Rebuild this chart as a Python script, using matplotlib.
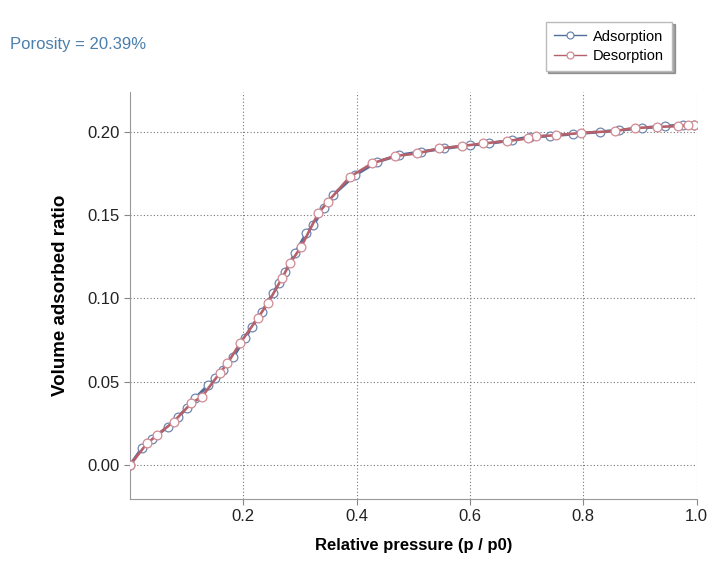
import matplotlib.pyplot as plt
from matplotlib.lines import Line2D

# isotherm points
ads_p = [0, 0.021, 0.039, 0.067, 0.085, 0.100, 0.115, 0.138, 0.150, 0.164,
         0.182, 0.203, 0.215, 0.233, 0.252, 0.263, 0.274, 0.291, 0.311, 0.323,
         0.342, 0.358, 0.397, 0.436, 0.475, 0.513, 0.554, 0.600, 0.633, 0.674,
         0.706, 0.741, 0.782, 0.829, 0.863, 0.903, 0.944, 0.976, 0.995]
ads_v = [0, 0.0100, 0.0156, 0.0230, 0.0290, 0.0340, 0.0400, 0.0480, 0.0520, 0.0570,
         0.0650, 0.0760, 0.0830, 0.0920, 0.1030, 0.1090, 0.1160, 0.1270, 0.1390, 0.1440,
         0.1540, 0.1620, 0.1740, 0.1820, 0.1860, 0.1880, 0.1900, 0.1920, 0.1930, 0.1950,
         0.1970, 0.1975, 0.1987, 0.2000, 0.2010, 0.2023, 0.2035, 0.2040, 0.2040]

des_p = [0.995, 0.985, 0.967, 0.930, 0.891, 0.856, 0.796, 0.752, 0.717, 0.702,
         0.665, 0.623, 0.586, 0.545, 0.506, 0.468, 0.427, 0.388, 0.349, 0.332,
         0.302, 0.282, 0.268, 0.243, 0.225, 0.194, 0.172, 0.158, 0.127, 0.108,
         0.077, 0.048, 0.030, 0]
des_v = [0.2040, 0.2040, 0.2035, 0.2029, 0.2023, 0.2005, 0.1993, 0.1980, 0.1972, 0.1960,
         0.1945, 0.1930, 0.1915, 0.1900, 0.1870, 0.1855, 0.1810, 0.1730, 0.1580, 0.1510,
         0.1310, 0.1210, 0.1120, 0.0970, 0.0880, 0.0730, 0.0610, 0.0550, 0.0410, 0.0370,
         0.0260, 0.0180, 0.0130, 0]

xticks = [0.2, 0.4, 0.6, 0.8, 1.0]
yticks = [0.00, 0.05, 0.10, 0.15, 0.20]

ads_col, ads_mec = '#4f6d9a', '#6f86b0'
des_col, des_mec = '#b5606a', '#d08a92'

plt.rcParams['font.family'] = ['Liberation Sans', 'DejaVu Sans']

fig = plt.figure(figsize=(7.28, 5.67), dpi=100)
ax = fig.add_axes([0.1786, 0.120, 0.7784, 0.718])

ax.plot(ads_p, ads_v, color=ads_col, lw=2.2, marker='o', ms=6.3,
        mfc='white', mec=ads_mec, mew=0.9, zorder=3)
ax.plot(des_p, des_v, color=des_col, lw=1.9, marker='o', ms=6.3,
        mfc='white', mec=des_mec, mew=0.9, zorder=4)

ax.set_xlim(0, 1.0)
ax.set_ylim(-0.0204, 0.224)
ax.set_xticks(xticks)
ax.set_yticks(yticks)
ax.set_xticklabels(['%.1f' % t for t in xticks])
ax.set_yticklabels(['%.2f' % t for t in yticks])
ax.tick_params(labelsize=12, colors='#222222', length=4, color='#888888')

ax.grid(True, color='#777777', linestyle=(0, (1, 2)), lw=0.8)
for side in ['top', 'right']:
    ax.spines[side].set_visible(False)
for side in ['left', 'bottom']:
    ax.spines[side].set_color('#999999')

ax.set_xlabel('Relative pressure (p / p0)', fontsize=12, fontweight='bold', labelpad=10)
ax.set_ylabel('Volume adsorbed ratio', fontsize=13.5, fontweight='bold', labelpad=13)

fig.text(0.014, 0.922, 'Porosity = 20.39%', fontsize=12, color='#4a7fae',
         va='center')

handles = [Line2D([], [], color=ads_col, lw=1.0, marker='o', ms=5,
                  mfc='white', mec=ads_mec, mew=0.9),
           Line2D([], [], color=des_col, lw=1.0, marker='o', ms=5,
                  mfc='white', mec=des_mec, mew=0.9)]
leg = fig.legend(handles, ['Adsorption', 'Desorption'], loc='upper right',
                 bbox_to_anchor=(0.923, 0.962), fontsize=10.5,
                 frameon=True, shadow=True, fancybox=False, handlelength=2.2,
                 borderpad=0.55, labelspacing=0.35, handletextpad=0.5,
                 borderaxespad=0)
leg.get_frame().set_edgecolor('#bbbbbb')

fig.savefig('out.png', dpi=100)
